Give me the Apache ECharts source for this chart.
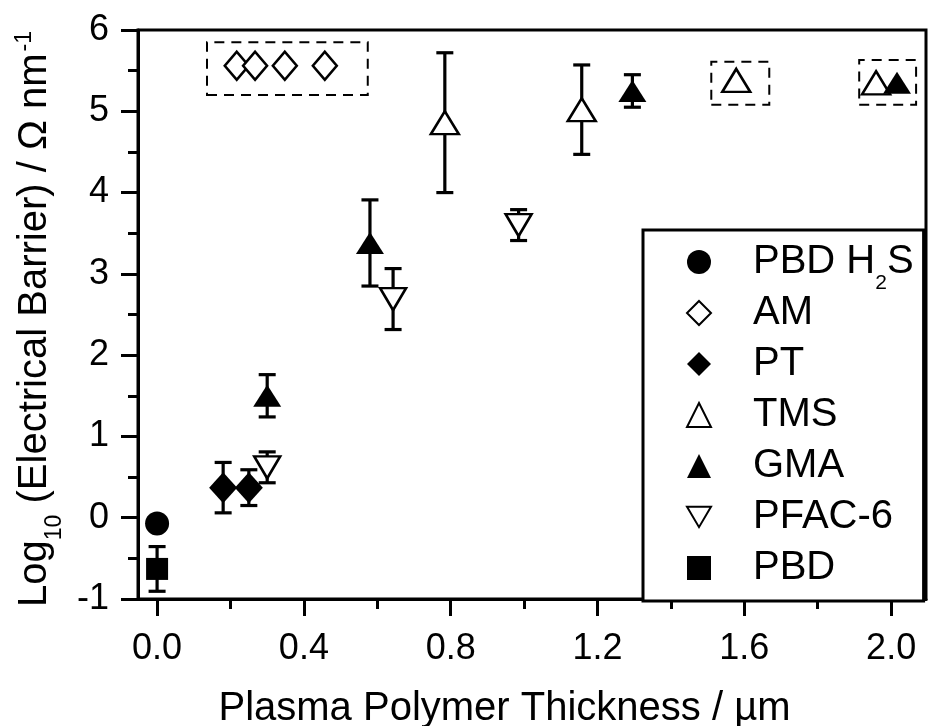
<!DOCTYPE html>
<html><head><meta charset="utf-8">
<script src="https://cdn.jsdelivr.net/npm/echarts@6/dist/echarts.min.js"></script>
<style>html,body{margin:0;padding:0;background:#fff}#c{width:928px;height:726px}</style>
</head><body><div id="c"></div>
<script>
// ---- data (x: thickness / µm, y: log10 barrier) ----
const seriesNames = ['PBD H2S', 'AM', 'PT', 'TMS', 'GMA', 'PFAC-6', 'PBD'];
const pbdH2S = [[0.0, -0.07]];
const am = [[0.217, 5.56], [0.267, 5.56], [0.348, 5.56], [0.457, 5.56]];
const pt = [[0.18, 0.37], [0.25, 0.37]];
const ptErr = [0.31, 0.22];
const tms = [[0.784, 4.86], [1.157, 5.02], [1.578, 5.38], [1.959, 5.35]];
const tmsErr = [0.86, 0.55, null, null];
const gma = [[0.30, 1.50], [0.58, 3.38], [1.295, 5.25], [2.016, 5.35]];
const gmaErr = [0.26, 0.53, 0.20, null];
const pfac = [[0.30, 0.62], [0.643, 2.69], [0.985, 3.60]];
const pfacErr = [0.19, 0.375, 0.19];
const pbd = [[0.0, -0.63]];
const pbdErr = [0.275];
// dashed highlight boxes [x1, y1, x2, y2]
const boxes = [[0.136, 5.20, 0.574, 5.85], [1.51, 5.08, 1.668, 5.61], [1.913, 5.08, 2.068, 5.63]];
const xMajorTicks = [0.0, 0.4, 0.8, 1.2, 1.6, 2.0];
const xMinorTicks = [0.2, 0.6, 1.0, 1.4, 1.8];
const xRange = [-0.052, 2.095];
const yRange = [-1, 6];

const FONT = "'Liberation Sans', Arial, Helvetica, sans-serif";
const DOWN_TRI = 'path://M0,0L26,0L13,22Z';

function errRows(pts, errs) {
  const out = [];
  pts.forEach((p, i) => { if (errs[i] != null) out.push([p[0], p[1] - errs[i], p[1] + errs[i]]); });
  return out;
}
const errData = [].concat(errRows(pt, ptErr), errRows(tms, tmsErr), errRows(gma, gmaErr),
  errRows(pfac, pfacErr), errRows(pbd, pbdErr));

function renderErr(params, api) {
  const x = api.value(0), lo = api.value(1), hi = api.value(2);
  const p1 = api.coord([x, lo]), p2 = api.coord([x, hi]);
  const hw = 8.5;
  const st = { stroke: '#000', lineWidth: 3.2 };
  return { type: 'group', children: [
    { type: 'line', shape: { x1: p1[0], y1: p1[1], x2: p2[0], y2: p2[1] }, style: st },
    { type: 'line', shape: { x1: p1[0] - hw, y1: p1[1], x2: p1[0] + hw, y2: p1[1] }, style: st },
    { type: 'line', shape: { x1: p2[0] - hw, y1: p2[1], x2: p2[0] + hw, y2: p2[1] }, style: st }
  ]};
}

const filled = { color: '#000', borderColor: '#000', borderWidth: 0, opacity: 1 };
const hollow = { color: '#fff', borderColor: '#000', borderWidth: 2.5, opacity: 1 };

function sc(name, data, symbol, size, style) {
  return { type: 'scatter', name: name, data: data, symbol: symbol, symbolSize: size,
    itemStyle: style, z: 3, silent: true };
}

const subStyle = { fontFamily: FONT, fontSize: 21, lineHeight: 21, verticalAlign: 'top', padding: [31, 0, 0, 0] };

const chart = echarts.init(document.getElementById('c'), null, { renderer: 'canvas' });
chart.setOption({
  animation: false,
  backgroundColor: '#fff',
  textStyle: { fontFamily: FONT, color: '#000' },
  grid: { left: 138, right: 2, top: 30, bottom: 127, show: true, borderColor: '#000', borderWidth: 3,
    backgroundColor: 'transparent', outerBoundsMode: 'none' },
  xAxis: [{
    type: 'value', min: xRange[0], max: xRange[1],
    name: 'Plasma Polymer Thickness / µm', nameLocation: 'middle', nameGap: 90,
    nameTextStyle: { fontFamily: FONT, fontSize: 40, color: '#000', padding: [0, 55, 0, 0] },
    axisLine: { show: true, onZero: false, lineStyle: { color: '#000', width: 3 } },
    axisTick: { show: true, length: 17, customValues: xMajorTicks, lineStyle: { color: '#000', width: 3 } },
    axisLabel: { show: true, margin: 32, customValues: xMajorTicks, fontFamily: FONT, fontSize: 36, color: '#000',
      formatter: v => v.toFixed(1) },
    splitLine: { show: false }
  }, {
    type: 'value', min: xRange[0], max: xRange[1], position: 'bottom',
    axisLine: { show: false, onZero: false },
    axisTick: { show: true, length: 10, customValues: xMinorTicks, lineStyle: { color: '#000', width: 3 } },
    axisLabel: { show: false },
    splitLine: { show: false }
  }],
  yAxis: {
    type: 'value', min: yRange[0], max: yRange[1], interval: 1,
    name: '{n|Log}{s|10}{n| (Electrical Barrier) / Ω nm}{p|-1}',
    nameLocation: 'middle', nameRotate: 90, nameGap: 80,
    nameTextStyle: { fontFamily: FONT, fontSize: 40, color: '#000', padding: [0, 9, 0, 0],
      rich: {
        n: { fontFamily: FONT, fontSize: 40, lineHeight: 44, color: '#000' },
        s: { fontFamily: FONT, fontSize: 23, lineHeight: 22, verticalAlign: 'top', padding: [30, 0, 0, 0], color: '#000' },
        p: { fontFamily: FONT, fontSize: 23, lineHeight: 22, verticalAlign: 'top', padding: [0, 0, 0, 2], color: '#000' }
      } },
    axisLine: { show: true, onZero: false, lineStyle: { color: '#000', width: 3 } },
    axisTick: { show: true, length: 17, lineStyle: { color: '#000', width: 3 } },
    minorTick: { show: true, splitNumber: 2, length: 10, lineStyle: { color: '#000', width: 3 } },
    axisLabel: { margin: 29, fontFamily: FONT, fontSize: 36, color: '#000' },
    splitLine: { show: false }
  },
  legend: {
    data: seriesNames.map(n => n === 'PFAC-6' ? { name: n, icon: DOWN_TRI } : n),
    orient: 'vertical', left: 643, top: 230,
    padding: [12, 10, 1, 43], itemGap: -1, itemWidth: 24, itemHeight: 24,
    backgroundColor: '#fff', borderColor: '#000', borderWidth: 3,
    selectedMode: false,
    formatter: name => '{g|}' + (name === 'PBD H2S' ? '{a|PBD H}{b|2}{a|S}' : '{a|' + name + '}{h|2}'),
    textStyle: { fontFamily: FONT, fontSize: 40, color: '#000',
      rich: {
        g: { width: 37, lineHeight: 40 },
        a: { fontFamily: FONT, fontSize: 40, lineHeight: 40, color: '#000' },
        b: Object.assign({ color: '#000' }, subStyle),
        h: Object.assign({ color: 'rgba(0,0,0,0)' }, subStyle)
      } }
  },
  series: [
    { type: 'custom', name: 'err', renderItem: renderErr, data: errData, z: 2, silent: true,
      encode: { x: 0, y: [1, 2] } },
    { type: 'scatter', name: 'boxes', data: [], z: 1, silent: true,
      markArea: { silent: true, label: { show: false },
        itemStyle: { color: 'rgba(0,0,0,0)', borderColor: '#000', borderWidth: 2, borderType: [10, 7] },
        data: boxes.map(b => [{ coord: [b[0], b[1]] }, { coord: [b[2], b[3]] }]) } },
    sc('PBD H2S', pbdH2S, 'circle', 24, filled),
    sc('AM', am, 'diamond', [24, 28], hollow),
    sc('PT', pt, 'diamond', [28, 31], filled),
    sc('TMS', tms, 'triangle', [28, 23], hollow),
    sc('GMA', gma, 'triangle', [28, 22], filled),
    sc('PFAC-6', pfac, DOWN_TRI, [26, 22], hollow),
    sc('PBD', pbd, 'rect', 22, filled)
  ]
});
</script>
</body></html>
